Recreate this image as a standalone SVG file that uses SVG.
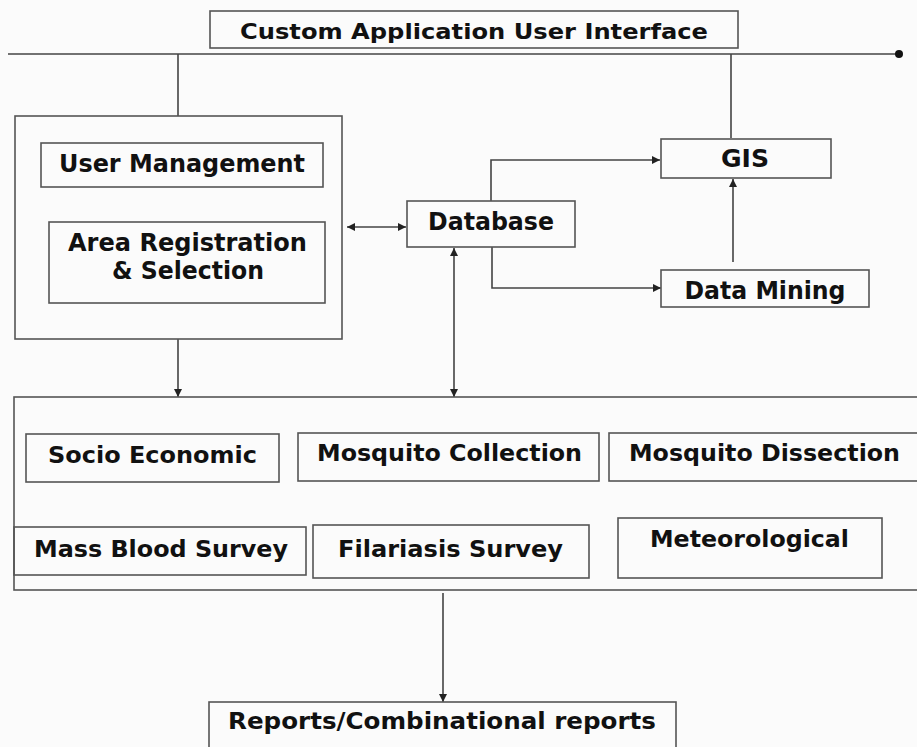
<svg xmlns="http://www.w3.org/2000/svg" width="917" height="747" viewBox="0 0 917 747">
<style>
.bx{fill:none;stroke:#555;stroke-width:1.6}
.ln{fill:none;stroke:#444;stroke-width:1.6}
.t{font-family:"DejaVu Sans","Verdana",sans-serif;font-weight:bold;fill:#111;text-anchor:middle}
</style>
<defs>
<marker id="ah" viewBox="0 0 10 10" refX="10" refY="5" markerWidth="10" markerHeight="8" markerUnits="userSpaceOnUse" orient="auto-start-reverse">
<path d="M0,0 L10,5 L0,10 z" fill="#222"/>
</marker>
</defs>
<rect width="917" height="747" fill="#fbfbfb"/>
<g id="connectors">
<line class="ln" x1="8" y1="54" x2="899" y2="54"/>
<circle cx="899" cy="54" r="4" fill="#111"/>
<line class="ln" x1="178" y1="54" x2="178" y2="116"/>
<line class="ln" x1="731" y1="54" x2="731" y2="138"/>
<line class="ln" x1="347" y1="227" x2="406" y2="227" marker-start="url(#ah)" marker-end="url(#ah)"/>
<path class="ln" d="M491,201 V160 H660" marker-end="url(#ah)"/>
<path class="ln" d="M492,247 V288 H661" marker-end="url(#ah)"/>
<line class="ln" x1="733" y1="262" x2="733" y2="179" marker-end="url(#ah)"/>
<line class="ln" x1="454" y1="248" x2="454" y2="397" marker-start="url(#ah)" marker-end="url(#ah)"/>
<line class="ln" x1="178" y1="339" x2="178" y2="397" marker-end="url(#ah)"/>
<line class="ln" x1="443" y1="593" x2="443" y2="702" marker-end="url(#ah)"/>
</g>
<g id="ui">
<rect class="bx" x="210" y="11" width="528" height="37"/>
<text class="t" x="474" y="39" font-size="21.500" textLength="468" lengthAdjust="spacingAndGlyphs">Custom Application User Interface</text>
</g>
<g id="leftgroup">
<rect class="bx" x="15" y="116" width="327" height="223"/>
</g>
<g id="usermgmt">
<rect class="bx" x="41" y="143" width="282" height="44"/>
<text class="t" x="182" y="172" font-size="24" textLength="246" lengthAdjust="spacingAndGlyphs">User Management</text>
</g>
<g id="area">
<rect class="bx" x="49" y="222" width="276" height="81"/>
<text class="t" x="187.500" y="251" font-size="24" textLength="239" lengthAdjust="spacingAndGlyphs">Area Registration</text>
<text class="t" x="188" y="279" font-size="24" textLength="152" lengthAdjust="spacingAndGlyphs">&amp; Selection</text>
</g>
<g id="database">
<rect class="bx" x="407" y="201" width="168" height="46"/>
<text class="t" x="491" y="230" font-size="24" textLength="126" lengthAdjust="spacingAndGlyphs">Database</text>
</g>
<g id="gis">
<rect class="bx" x="661" y="139" width="170" height="39"/>
<text class="t" x="745" y="167" font-size="24" textLength="48" lengthAdjust="spacingAndGlyphs">GIS</text>
</g>
<g id="datamining">
<rect class="bx" x="661" y="270" width="208" height="37"/>
<text class="t" x="765" y="299" font-size="24" textLength="161" lengthAdjust="spacingAndGlyphs">Data Mining</text>
</g>
<g id="datagroup">
<rect class="bx" x="14" y="397" width="920" height="193"/>
</g>
<g id="socio">
<rect class="bx" x="26" y="434" width="253" height="48"/>
<text class="t" x="152.500" y="463" font-size="22.500" textLength="209" lengthAdjust="spacingAndGlyphs">Socio Economic</text>
</g>
<g id="mcollection">
<rect class="bx" x="298" y="433" width="301" height="48"/>
<text class="t" x="449.500" y="461" font-size="22.500" textLength="265" lengthAdjust="spacingAndGlyphs">Mosquito Collection</text>
</g>
<g id="mdissection">
<rect class="bx" x="609" y="433" width="320" height="48"/>
<text class="t" x="764.500" y="461" font-size="22.500" textLength="271" lengthAdjust="spacingAndGlyphs">Mosquito Dissection</text>
</g>
<g id="massblood">
<rect class="bx" x="14" y="527" width="292" height="48"/>
<text class="t" x="161" y="557" font-size="22.500" textLength="254" lengthAdjust="spacingAndGlyphs">Mass Blood Survey</text>
</g>
<g id="filariasis">
<rect class="bx" x="313" y="525" width="276" height="53"/>
<text class="t" x="450.500" y="557" font-size="22.500" textLength="225" lengthAdjust="spacingAndGlyphs">Filariasis Survey</text>
</g>
<g id="meteo">
<rect class="bx" x="618" y="518" width="264" height="60"/>
<text class="t" x="749.500" y="547" font-size="22.500" textLength="199" lengthAdjust="spacingAndGlyphs">Meteorological</text>
</g>
<g id="reports">
<rect class="bx" x="209" y="702" width="467" height="60"/>
<text class="t" x="442" y="729" font-size="22.500" textLength="428" lengthAdjust="spacingAndGlyphs">Reports/Combinational reports</text>
</g>
</svg>
